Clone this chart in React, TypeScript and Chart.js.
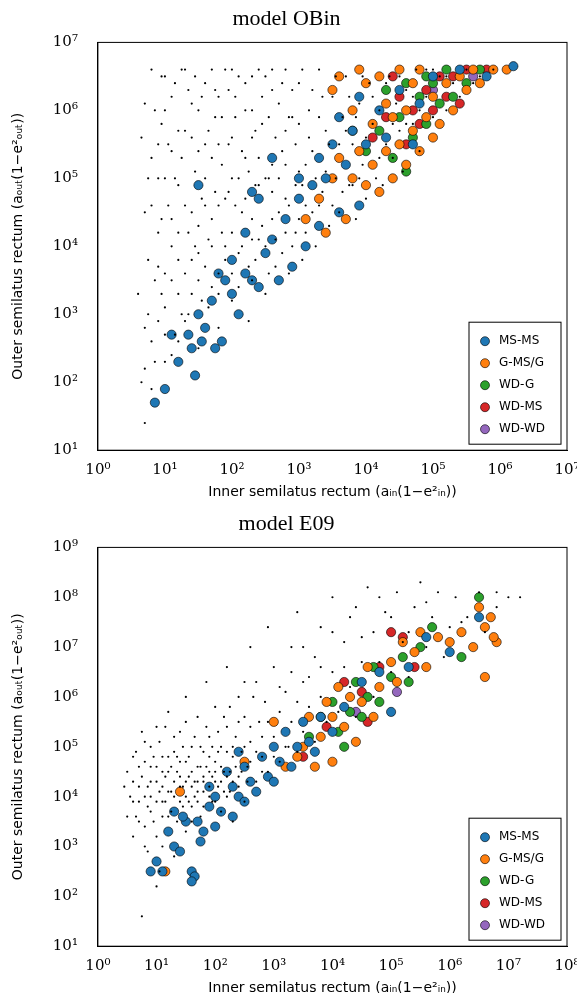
import { Chart, registerables } from "chart.js";
import { useEffect, useRef } from "react";

Chart.register(...registerables);

// points as "log10(x),log10(y)" pairs
const obinField = "0.7,1.4 0.7,2.2 0.75,3.0 0.8,1.9 0.8,2.6 0.85,3.5 0.9,4.2 0.9,5.0 0.95,5.8 0.95,6.5 1.0,2.3 1.0,3.1 1.05,4.6 1.1,5.4 1.1,6.2 1.15,2.7 1.2,3.8 1.2,4.9 1.25,6.6 1.3,2.9 1.3,5.7 1.35,4.2 1.4,3.3 1.4,6.1 1.45,5.1 1.5,2.5 1.5,3.9 1.55,4.7 1.6,6.4 1.6,5.5 1.65,3.1 1.7,4.4 1.75,5.9 1.8,2.8 1.8,3.6 1.85,5.2 1.9,6.6 1.9,4.0 1.95,4.8 2.0,3.2 2.0,5.6 2.05,6.2 2.1,3.9 2.15,4.5 2.2,5.3 2.25,2.9 2.3,6.0 2.3,3.5 2.35,4.9 2.4,4.1 2.45,5.8 2.5,6.5 2.5,3.3 2.55,5.0 2.6,4.4 2.65,3.7 2.7,6.1 2.75,5.4 2.8,4.7 2.85,3.6 2.9,5.9 2.95,4.2 3.0,6.4 3.0,5.1 3.05,3.8 3.1,4.6 3.15,6.0 3.2,5.4 3.25,4.0 3.3,6.6 3.35,4.8 3.4,5.7 3.45,4.3 3.5,6.2 3.55,5.0 3.6,4.5 3.65,5.9 3.7,6.5 3.75,4.9 3.8,5.5 3.85,4.4 3.9,6.1 3.95,5.2 4.0,4.7 4.05,6.4 4.1,5.8 4.15,5.0 4.2,6.0 4.25,4.9 4.3,5.5 4.35,6.5 4.4,5.3 4.45,6.1 4.5,5.7 4.55,5.1 4.6,6.3 4.7,5.8 4.75,6.6 4.8,5.4 4.9,6.2 5.0,5.9 5.1,6.5 5.2,6.0 5.3,6.4 5.4,6.2 5.5,6.6 5.6,6.4 5.7,6.5 5.9,6.6 0.8,6.6 1.0,6.0 1.2,5.7 1.3,6.6 1.5,6.0 1.7,6.6 1.8,6.2 2.0,6.6 2.2,6.4 2.4,6.6 2.6,6.3 2.8,6.6 1.1,4.0 1.4,4.5 1.6,5.0 1.8,4.6 2.1,5.0 2.3,5.6 2.6,5.2 2.8,5.7 0.9,3.7 1.2,3.3 1.5,3.5 1.7,4.0 2.0,4.2 2.3,4.4 0.7,4.5 0.8,5.3 0.7,6.1 1.0,5.0 1.1,2.4 0.9,2.9 0.6,3.3 0.65,5.6 " +
	"0.65,2.0 0.7,2.8 0.75,3.8 0.75,5.0 0.8,4.6 0.85,6.0 0.85,2.3 0.9,5.5 0.95,3.3 0.95,4.4 1.0,2.7 1.0,3.6 1.0,6.5 1.05,5.5 1.1,3.5 1.1,4.4 1.15,5.0 1.15,6.4 1.2,2.6 1.2,4.2 1.25,3.0 1.25,5.3 1.3,3.6 1.3,4.6 1.35,6.3 1.35,3.0 1.4,5.6 1.4,3.8 1.45,4.0 1.45,6.5 1.5,4.3 1.5,5.4 1.55,3.2 1.55,6.2 1.6,3.7 1.6,4.6 1.65,5.7 1.65,4.1 1.7,3.4 1.7,5.3 1.75,4.8 1.75,6.3 1.8,3.3 1.8,5.5 1.85,4.2 1.85,5.9 1.9,3.8 1.9,4.7 1.95,5.5 1.95,6.3 2.0,3.6 2.0,5.0 2.05,4.6 2.05,5.9 2.1,3.4 2.1,6.5 2.15,4.0 2.15,5.4 2.2,4.7 2.2,6.0 2.25,3.7 2.25,5.1 2.3,4.1 2.3,6.5 2.35,5.7 2.35,3.8 2.4,4.9 2.4,5.3 2.45,4.3 2.45,6.2 2.5,4.0 2.5,5.0 2.55,5.9 2.55,3.6 2.6,4.8 2.6,6.6 2.65,4.1 2.65,5.6 2.7,4.5 2.7,5.0 2.75,3.9 2.75,6.4 2.8,5.2 2.8,4.2 2.85,5.9 2.85,4.6 2.9,4.0 2.9,6.3 2.95,5.5 2.95,4.9 3.0,4.4 3.0,5.8 3.05,6.6 3.05,4.9 3.1,5.2 3.1,4.2 3.15,5.6 3.2,4.5 3.2,6.3 3.25,5.0 3.3,4.6 3.3,5.9 3.35,6.2 3.4,5.1 3.45,5.5 3.5,4.6 3.55,6.5 3.6,5.5 3.65,4.8 3.7,5.7 3.75,6.2 3.8,4.9 3.85,5.9 3.9,5.0 3.95,6.5 4.0,5.6 4.1,6.2 4.2,5.3 4.3,6.4 4.4,5.8 4.5,6.5 4.6,5.8 4.7,6.2 4.8,6.0 4.9,6.6 5.0,6.6 5.2,6.5";
const obinMSMS = "0.85,1.7 1.0,1.9 1.1,2.7 1.2,2.3 1.35,2.7 1.4,2.5 1.45,2.1 1.5,3.0 1.55,2.6 1.6,2.8 1.7,3.2 1.75,2.5 1.8,3.6 1.85,2.6 1.9,3.5 2.0,3.3 2.0,3.8 2.1,3.0 2.2,4.2 2.2,3.6 2.3,3.5 2.4,4.7 2.4,3.4 2.5,3.9 2.6,4.1 2.7,3.5 2.8,4.4 2.9,3.7 3.0,4.7 3.0,5.0 3.1,4.0 3.2,4.9 3.3,4.3 3.3,5.3 3.4,5.0 3.5,5.5 3.6,4.5 3.6,5.9 3.7,5.2 3.8,5.7 3.9,6.2 4.0,5.5 4.2,6.0 4.3,5.6 4.5,6.3 4.7,5.5 4.8,6.1 5.0,6.5 5.4,6.6 5.8,6.5 6.2,6.65 1.5,4.9 2.3,4.8 2.6,5.3 3.9,4.6";
const obinGMSG = "3.1,4.4 3.3,4.7 3.4,4.2 3.5,5.0 3.5,6.3 3.6,5.3 3.7,4.4 3.8,5.0 3.8,6.0 3.9,5.4 4.0,4.9 4.0,6.4 4.1,5.2 4.1,5.8 4.2,4.8 4.2,6.5 4.3,5.4 4.3,6.1 4.4,5.0 4.4,5.9 4.5,5.5 4.5,6.6 4.6,5.2 4.6,6.0 4.7,5.7 4.7,6.4 4.8,5.4 4.8,6.6 4.9,5.9 5.0,5.6 5.0,6.2 5.1,5.8 5.2,6.4 5.3,6.0 5.4,6.5 5.5,6.3 5.6,6.6 5.7,6.4 5.9,6.6 6.1,6.6 3.6,6.5 3.9,6.6";
const obinWDG = "4.0,5.4 4.2,5.7 4.3,6.3 4.4,5.3 4.5,5.9 4.6,6.4 4.7,5.6 4.8,6.2 4.9,5.8 5.0,6.4 5.1,6.1 5.2,6.6 5.3,6.2 5.5,6.4 5.7,6.6 4.6,5.1 4.9,6.5 3.8,5.7";
const obinWDMS = "4.1,5.6 4.3,5.9 4.5,6.2 4.6,5.5 4.7,6.0 4.8,5.8 4.9,6.3 5.0,6.0 5.1,6.5 5.2,6.2 5.3,6.5 5.5,6.6 4.4,6.5 5.8,6.6 5.4,6.1";
const obinWDWD = "5.0,6.3 5.6,6.5";

const e09Field = "0.5,4.5 0.6,3.9 0.6,4.8 0.7,4.2 0.7,3.5 0.8,5.1 0.8,4.0 0.85,2.9 0.9,4.6 0.9,3.7 1.0,4.3 1.0,5.4 1.0,3.2 1.05,2.5 1.1,4.8 1.1,3.9 1.15,4.4 1.2,5.7 1.2,3.6 1.25,4.1 1.3,4.9 1.3,2.8 1.35,4.5 1.4,3.9 1.4,5.3 1.45,4.2 1.5,4.7 1.5,6.0 1.5,3.3 1.55,4.4 1.6,5.0 1.6,3.8 1.65,4.3 1.7,5.6 1.7,4.6 1.75,3.6 1.8,4.9 1.8,4.1 1.85,6.3 1.9,4.5 1.9,5.2 1.95,3.9 2.0,4.7 2.0,5.8 2.05,4.2 2.1,5.0 2.1,3.7 2.15,4.5 2.2,6.6 2.2,5.4 2.25,4.1 2.3,4.8 2.3,3.5 2.35,5.2 2.4,4.4 2.4,6.0 2.45,4.9 2.5,5.6 2.5,3.9 2.55,4.6 2.6,7.0 2.6,5.1 2.7,4.3 2.7,6.3 2.75,5.5 2.8,4.8 2.85,5.9 2.9,4.5 2.9,7.4 3.0,5.2 3.0,6.6 3.1,4.7 3.1,5.7 3.2,6.1 3.25,5.0 3.3,7.0 3.3,5.5 3.4,4.9 3.4,7.7 3.5,6.3 3.5,5.3 3.6,5.8 3.7,6.8 3.7,5.1 3.8,7.4 3.8,6.0 3.9,5.5 4.0,8.0 4.0,6.5 4.1,5.7 4.2,7.1 4.3,6.2 4.4,7.8 4.4,5.6 4.5,6.7 4.6,8.2 4.7,7.3 4.7,6.0 4.8,6.7 4.9,7.7 5.0,6.5 5.1,8.1 5.2,7.1 5.3,6.4 5.4,7.8 5.5,8.3 5.6,7.0 5.7,7.6 5.8,8.1 5.9,6.8 6.0,7.4 6.1,8.0 6.3,7.6 6.5,8.1 6.6,7.3 6.8,7.8 7.0,8.0 7.2,8.0 0.7,4.6 1.3,4.3 1.6,4.2 1.9,4.0 1.2,4.5 1.5,4.0 1.8,4.4 2.0,4.3 1.4,4.7 1.7,4.3 1.1,4.2 0.9,4.0 2.2,4.0 0.75,1.6 1.1,3.0 0.6,3.2 " +
	"0.55,4.0 0.6,4.3 0.65,3.6 0.65,4.9 0.7,3.9 0.75,4.4 0.75,5.3 0.8,3.4 0.8,4.7 0.85,4.2 0.85,3.8 0.9,5.0 0.9,4.3 0.95,3.5 0.95,4.8 1.0,3.9 1.0,4.6 1.05,4.1 1.05,5.1 1.1,3.6 1.1,4.5 1.15,3.9 1.15,5.4 1.2,4.1 1.2,4.8 1.25,3.7 1.25,4.6 1.3,4.0 1.3,5.2 1.35,3.5 1.35,4.8 1.4,4.2 1.4,4.4 1.45,3.8 1.45,5.0 1.5,4.3 1.5,5.5 1.55,3.9 1.55,4.8 1.6,4.5 1.6,3.5 1.65,4.0 1.65,5.2 1.7,4.1 1.7,3.9 1.75,4.6 1.75,5.0 1.8,3.8 1.8,4.3 1.85,4.6 1.85,5.4 1.9,4.2 1.9,4.8 1.95,4.4 1.95,5.0 2.0,3.9 2.0,4.5 2.05,4.9 2.05,5.3 2.1,4.3 2.1,4.6 2.15,4.1 2.15,5.6 2.2,4.4 2.2,4.9 2.25,4.5 2.25,5.8 2.3,4.3 2.3,5.0 2.35,4.6 2.4,4.2 2.4,5.5 2.45,4.5 2.5,5.0 2.5,6.3 2.55,4.3 2.6,4.7 2.6,5.4 2.65,6.0 2.7,4.9 2.8,5.2 2.8,4.5 2.9,5.5 3.0,4.8 3.1,6.2 3.2,5.0 3.3,6.5 3.4,5.9 3.5,7.0 3.6,6.4 3.8,6.6 4.0,7.3 4.2,6.6 4.3,7.6 4.5,7.2 4.8,8.0 5.0,7.6 5.3,7.3 5.6,7.9 6.2,7.5 6.8,8.1 0.45,4.2 0.5,3.6 1.0,2.2 0.8,3.0";
const e09MSMS = "0.9,2.5 1.0,2.7 1.1,2.5 1.2,3.3 1.3,3.0 1.4,2.9 1.5,3.5 1.6,2.5 1.65,2.4 1.7,3.5 1.75,3.1 1.8,3.3 1.9,3.8 2.0,3.4 2.0,4.0 2.1,3.7 2.2,4.5 2.3,3.6 2.3,4.2 2.4,4.0 2.5,3.9 2.5,4.6 2.6,4.3 2.7,4.1 2.8,4.8 2.9,4.4 3.0,5.0 3.0,4.3 3.1,4.7 3.2,5.3 3.3,4.6 3.4,5.0 3.5,5.5 3.6,5.1 3.7,4.9 3.8,5.6 4.0,5.3 4.2,5.8 4.5,6.3 4.8,6.5 5.0,5.7 5.3,6.6 5.6,7.2 6.0,6.9 6.5,7.6 1.3,3.7 1.9,4.2 2.4,4.9 1.6,2.3 1.45,3.6";
const e09GMSG = "1.4,4.1 1.15,2.5 2.5,4.7 3.0,5.5 3.2,4.6 3.4,4.8 3.5,5.0 3.6,5.6 3.7,4.6 3.8,5.2 3.9,5.9 4.0,5.6 4.0,4.7 4.1,6.2 4.2,5.4 4.3,6.0 4.4,5.1 4.5,5.9 4.6,6.6 4.7,5.6 4.8,6.2 5.0,6.7 5.1,6.3 5.2,7.1 5.4,6.9 5.5,7.3 5.6,6.6 5.8,7.2 6.0,7.1 6.2,7.3 6.4,7.0 6.5,7.8 6.6,7.4 6.7,7.6 6.8,7.1 6.6,6.4 6.75,7.2";
const e09WDG = "3.6,5.2 3.8,5.6 4.0,5.9 4.1,5.3 4.3,5.7 4.4,6.3 4.5,5.6 4.6,6.0 4.7,6.6 4.8,5.9 5.0,6.4 5.2,6.8 5.3,6.3 5.5,7.0 4.2,5.0 5.7,7.4 6.5,8.0 6.2,6.8";
const e09WDMS = "3.5,4.8 3.9,5.4 4.2,6.3 4.5,6.1 4.6,5.5 5.0,7.3 5.2,7.2 4.8,6.6 5.4,6.6";
const e09WDWD = "4.4,5.7 5.1,6.1";

const classNames = ["MS-MS", "G-MS/G", "WD-G", "WD-MS", "WD-WD"];
const classColors = ["#1f77b4", "#ff7f0e", "#2ca02c", "#d62728", "#9467bd"];

const toPoints = (s: string) =>
	s.split(" ").map(p => {
		const [a, b] = p.split(",").map(Number);
		return { x: Math.pow(10, a), y: Math.pow(10, b) };
	});

const sup: Record<string, string> = { "0": "⁰", "1": "¹", "2": "²", "3": "³", "4": "⁴", "5": "⁵", "6": "⁶", "7": "⁷", "8": "⁸", "9": "⁹" };
const pow10 = (v: number) => {
	const e = Math.log10(v);
	if (Math.abs(e - Math.round(e)) > 1e-6) return "";
	return "10" + String(Math.round(e)).split("").map(c => sup[c]).join("");
};

const framePlugin = {
	id: "frameLegend",
	afterDraw(chart: any) {
		const { ctx, chartArea: a } = chart;
		ctx.save();
		ctx.strokeStyle = "#000";
		ctx.lineWidth = 1;
		ctx.strokeRect(a.left, a.top, a.right - a.left, a.bottom - a.top);
		// legend box inside lower right
		const w = 92, rowH = 22, h = rowH * 5 + 12;
		const x0 = a.right - w - 6, y0 = a.bottom - h - 6;
		ctx.fillStyle = "#fff";
		ctx.fillRect(x0, y0, w, h);
		ctx.strokeRect(x0, y0, w, h);
		ctx.font = "12px 'DejaVu Sans'";
		ctx.textBaseline = "middle";
		classNames.forEach((n, i) => {
			const cy = y0 + 8 + rowH * i + rowH / 2;
			ctx.beginPath();
			ctx.arc(x0 + 16, cy, 4.5, 0, Math.PI * 2);
			ctx.fillStyle = classColors[i];
			ctx.fill();
			ctx.lineWidth = 0.6;
			ctx.stroke();
			ctx.fillStyle = "#000";
			ctx.fillText(n, x0 + 30, cy);
		});
		ctx.restore();
	}
};

function Panel({ title, field, groups, xmax, ymax, height }: { title: string, field: string, groups: string[], xmax: number, ymax: number, height: number }) {
	const ref = useRef<HTMLCanvasElement>(null);
	useEffect(() => {
		if (ref.current == null) return;
		const tickFont = { family: "'DejaVu Serif'", size: 15 };
		const chart = new Chart(ref.current, {
			type: "scatter",
			data: {
				datasets: [
					{ label: "field", data: toPoints(field), pointRadius: 1.1, backgroundColor: "#000", borderWidth: 0 },
					...groups.map((g, i) => ({
						label: classNames[i],
						data: toPoints(g),
						pointRadius: 4.6,
						backgroundColor: classColors[i],
						borderColor: "#000",
						borderWidth: 0.6,
					})),
				]
			},
			options: {
				animation: false,
				responsive: false,
				layout: { padding: { right: 18, top: 6, left: 6 } },
				plugins: {
					legend: { display: false },
					tooltip: { enabled: false },
					title: { display: true, text: title, color: "#000", font: { family: "'Liberation Serif'", size: 22, weight: "normal" }, padding: { top: 0, bottom: 10 } },
				},
				scales: {
					x: {
						type: "logarithmic", min: 1, max: xmax,
						grid: { display: false },
						border: { color: "#000" },
						ticks: { color: "#000", font: tickFont, autoSkip: false, maxRotation: 0, callback: (v: any) => pow10(Number(v)) },
						title: { display: true, text: "Inner semilatus rectum (aᵢₙ(1−e²ᵢₙ))", color: "#000", font: { family: "'DejaVu Sans'", size: 14 }, padding: { top: 2 } },
					},
					y: {
						type: "logarithmic", min: 10, max: ymax,
						grid: { display: false },
						border: { color: "#000" },
						ticks: { color: "#000", font: tickFont, autoSkip: false, padding: 12, callback: (v: any) => pow10(Number(v)) },
						title: { display: true, text: "Outer semilatus rectum (aₒᵤₜ(1−e²ₒᵤₜ))", color: "#000", font: { family: "'DejaVu Sans'", size: 14 }, padding: { bottom: 14 } },
					}
				}
			},
			plugins: [framePlugin]
		} as any);
		return () => chart.destroy();
	}, []);
	return <canvas ref={ref} width={585} height={height} style={{ display: "block" }} />;
}

export default function App() {
	return (
		<div style={{ margin: -8, width: 585, background: "#fff" }}>
			<Panel title="model OBin" field={obinField} groups={[obinMSMS, obinGMSG, obinWDG, obinWDMS, obinWDWD]} xmax={1e7} ymax={1e7} height={505} />
			<Panel title="model E09" field={e09Field} groups={[e09MSMS, e09GMSG, e09WDG, e09WDMS, e09WDWD]} xmax={1e8} ymax={1e9} height={496} />
		</div>
	);
}
